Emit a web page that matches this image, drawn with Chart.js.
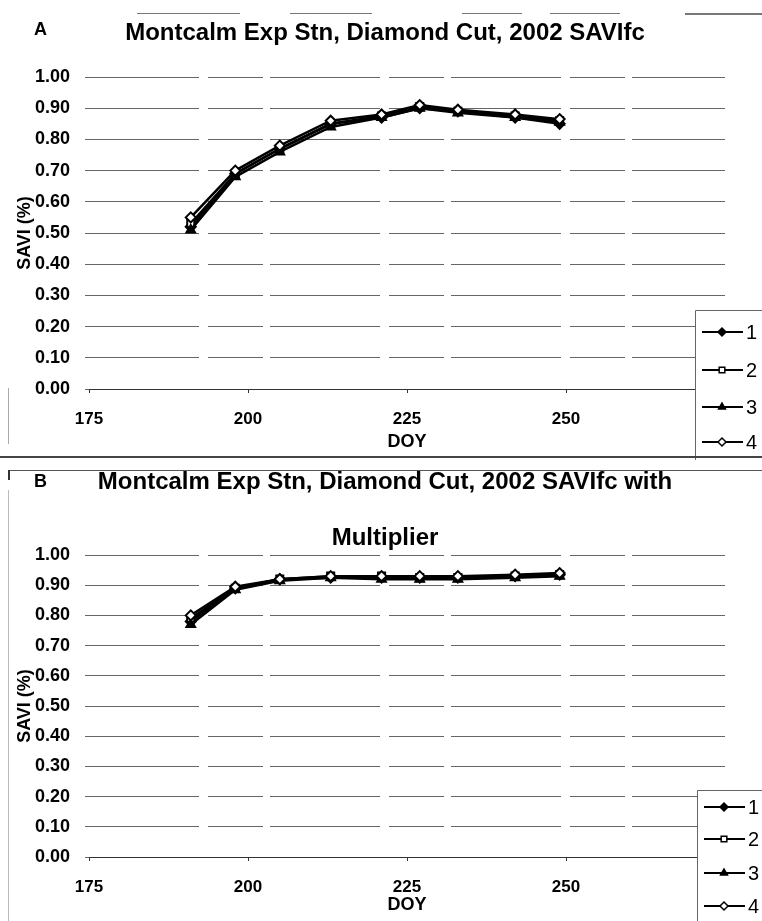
<!DOCTYPE html>
<html>
<head>
<meta charset="utf-8">
<script src="https://cdn.jsdelivr.net/npm/chart.js@4.4.1/dist/chart.umd.min.js"></script>
<style>
  html, body { margin: 0; padding: 0; background: #fff; }
  #page { position: relative; width: 762px; height: 921px; overflow: hidden; background: #fff; }
  canvas { position: absolute; left: 0; }
  #chartA { top: 0; }
  #chartB { top: 460px; }
  .rule { position: absolute; background: #777; }
</style>
</head>
<body>
<div id="page">
  <canvas id="chartA" width="762" height="460"></canvas>
  <canvas id="chartB" width="762" height="461"></canvas>

  <!-- scanned frame lines -->
  <div class="rule" style="left:137px;top:13px;width:103px;height:1px"></div>
  <div class="rule" style="left:290px;top:13px;width:82px;height:1px"></div>
  <div class="rule" style="left:462px;top:13px;width:60px;height:1px"></div>
  <div class="rule" style="left:550px;top:13px;width:70px;height:1px"></div>
  <div class="rule" style="left:685px;top:13px;width:77px;height:2px"></div>
  <div class="rule" style="left:8px;top:388px;width:1px;height:56px;background:#aaa"></div>
  <div class="rule" style="left:0;top:456px;width:762px;height:2px;background:#444"></div>
  <div class="rule" style="left:8px;top:470px;width:754px;height:1px;background:#555"></div>
  <div class="rule" style="left:8px;top:470px;width:2px;height:10px;background:#333"></div>
  <div class="rule" style="left:8px;top:490px;width:1px;height:431px;background:#bbb"></div>
</div>

<script>
// day of year of each image
const doy = [191, 198, 205, 213, 221, 227, 233, 242, 249];

// A: SAVIfc
const savA1 = [0.52, 0.69, 0.77, 0.85, 0.87, 0.90, 0.89, 0.87, 0.85];
const savA2 = [0.53, 0.69, 0.77, 0.85, 0.875, 0.905, 0.89, 0.875, 0.86];
const savA3 = [0.51, 0.68, 0.76, 0.84, 0.87, 0.90, 0.885, 0.87, 0.855];
const savA4 = [0.55, 0.70, 0.78, 0.86, 0.88, 0.91, 0.895, 0.88, 0.865];

// B: SAVIfc with multiplier
const savB1 = [0.78, 0.89, 0.92, 0.925, 0.925, 0.925, 0.925, 0.93, 0.935];
const savB2 = [0.79, 0.89, 0.92, 0.93, 0.93, 0.925, 0.925, 0.93, 0.935];
const savB3 = [0.77, 0.885, 0.915, 0.925, 0.92, 0.92, 0.92, 0.925, 0.93];
const savB4 = [0.80, 0.895, 0.92, 0.93, 0.93, 0.93, 0.93, 0.935, 0.94];

const seriesLabels = ['1', '2', '3', '4'];
const xTicks = [175, 200, 225, 250, 275];
const yTicks = [0, 0.1, 0.2, 0.3, 0.4, 0.5, 0.6, 0.7, 0.8, 0.9, 1.0];

const titleA = ['Montcalm Exp Stn, Diamond Cut, 2002 SAVIfc'];
const titleB = ['Montcalm Exp Stn, Diamond Cut, 2002 SAVIfc with', 'Multiplier'];

const FONT = "'Liberation Sans', Arial, sans-serif";
Chart.defaults.font.family = FONT;
Chart.defaults.color = '#000';

const marks = [
  { style: 'rectRot', fill: '#000' },
  { style: 'rect', fill: '#fff' },
  { style: 'triangle', fill: '#000' },
  { style: 'rectRot', fill: '#fff' }
];

function series(i, values) {
  return {
    label: seriesLabels[i],
    data: doy.map((d, k) => ({ x: d, y: values[k] })),
    borderColor: '#000',
    borderWidth: 2.5,
    pointStyle: marks[i].style,
    pointRadius: 5,
    pointBorderWidth: 2,
    pointBackgroundColor: marks[i].fill,
    pointBorderColor: '#000',
    tension: 0,
    order: 4 - i
  };
}

// title, panel letter and boxed legend
const decor = {
  id: 'decor',
  afterDraw(chart, args, o) {
    const ctx = chart.ctx;
    ctx.save();
    ctx.fillStyle = '#000';
    ctx.textBaseline = 'middle';
    ctx.textAlign = 'left';
    ctx.font = 'bold 18px ' + FONT;
    ctx.fillText(o.tag, 34, o.tagY);
    ctx.font = 'bold 24px ' + FONT;
    ctx.textAlign = 'center';
    o.title.forEach((t, i) => ctx.fillText(t, 385, o.titleY[i]));

    const L = o.legend;
    ctx.fillStyle = '#fff';
    ctx.fillRect(L.x, L.y, chart.width - L.x, chart.height - L.y);
    ctx.strokeStyle = '#666';
    ctx.lineWidth = 1;
    ctx.beginPath();
    ctx.moveTo(L.x + 0.5, chart.height);
    ctx.lineTo(L.x + 0.5, L.y + 0.5);
    ctx.lineTo(chart.width, L.y + 0.5);
    ctx.stroke();

    chart.data.datasets.forEach((ds, i) => {
      const y = L.rows[i];
      ctx.strokeStyle = '#000';
      ctx.lineWidth = 2;
      ctx.beginPath();
      ctx.moveTo(L.x + 7, y);
      ctx.lineTo(L.x + 48, y);
      ctx.stroke();
      ctx.fillStyle = ds.pointBackgroundColor;
      ctx.lineWidth = 1.5;
      Chart.helpers.drawPoint(ctx, { pointStyle: ds.pointStyle, radius: 4, rotation: 0, borderWidth: 1.5 }, L.x + 27, y);
      ctx.fillStyle = '#000';
      ctx.font = '20px ' + FONT;
      ctx.textAlign = 'left';
      ctx.fillText(ds.label, L.x + 51, y + 1);
    });
    ctx.restore();
  }
};

function makeChart(id, sets, pad, xAxisH, deco) {
  return new Chart(document.getElementById(id), {
    type: 'line',
    data: { datasets: sets },
    options: {
      responsive: false,
      animation: false,
      layout: { padding: pad },
      plugins: { legend: { display: false }, tooltip: { enabled: false }, decor: deco },
      scales: {
        x: {
          type: 'linear',
          min: 175,
          max: 275,
          afterBuildTicks: s => { s.ticks = xTicks.map(v => ({ value: v })); },
          ticks: { font: { size: 17, weight: 'bold' }, padding: 16, color: '#000' },
          grid: { drawOnChartArea: false, drawTicks: true, tickLength: 4, color: '#333' },
          border: { display: true, color: '#333', width: 1 },
          title: { display: true, text: 'DOY', font: { size: 18, weight: 'bold' }, padding: 0 },
          afterFit: s => { s.height = xAxisH; }
        },
        y: {
          min: 0,
          max: 1,
          afterBuildTicks: s => { s.ticks = yTicks.map(v => ({ value: v })); },
          ticks: { callback: v => v.toFixed(2), font: { size: 18, weight: 'bold' }, padding: 15, color: '#000' },
          grid: { color: '#666', lineWidth: 1, tickLength: 4, drawTicks: true },
          border: { display: false, dash: [110, 9, 55, 7] },
          title: { display: true, text: 'SAVI (%)', font: { size: 18, weight: 'bold' }, padding: { top: 14, bottom: 0 } },
          afterFit: s => { s.width = 89; }
        }
      }
    },
    plugins: [decor]
  });
}

makeChart('chartA',
  [series(0, savA1), series(1, savA2), series(2, savA3), series(3, savA4)],
  { top: 77, left: 0, right: 37, bottom: 7 }, 64,
  { tag: 'A', tagY: 30, title: titleA, titleY: [33],
    legend: { x: 695, y: 310, rows: [332, 370, 407, 442] } });

makeChart('chartB',
  [series(0, savB1), series(1, savB2), series(2, savB3), series(3, savB4)],
  { top: 95, left: 0, right: 37, bottom: 5 }, 59,
  { tag: 'B', tagY: 22, title: titleB, titleY: [22, 78],
    legend: { x: 697, y: 330, rows: [347, 379, 413, 446] } });
</script>
</body>
</html>
